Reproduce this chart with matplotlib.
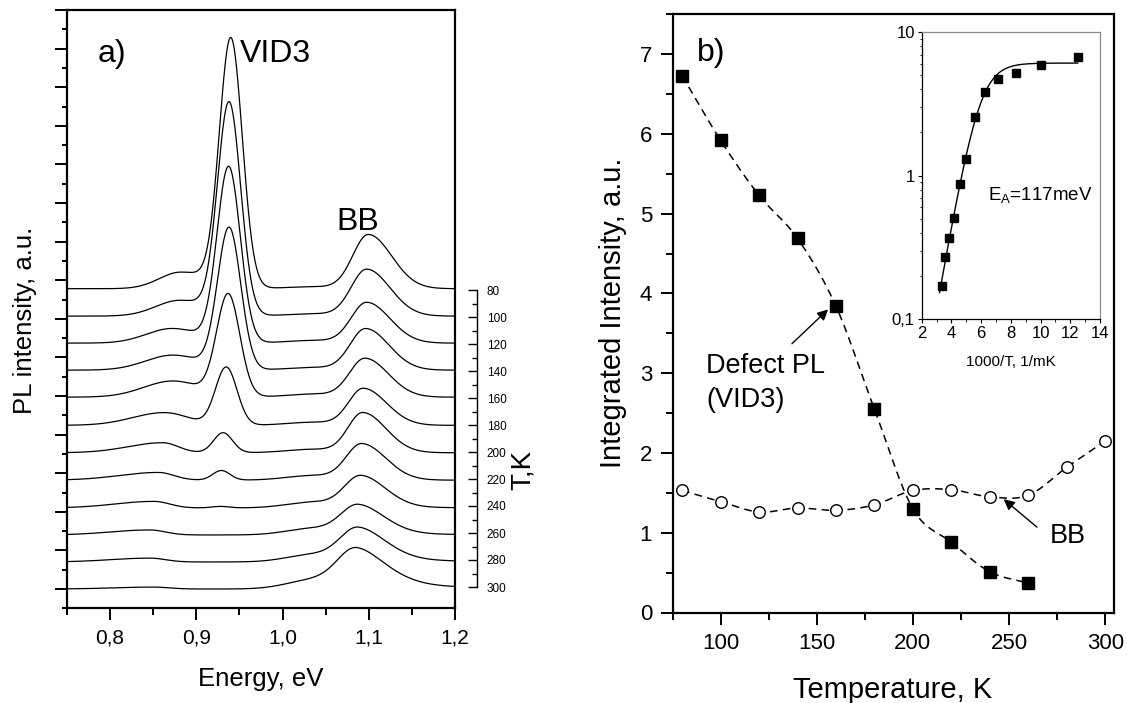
import numpy as np
import matplotlib
matplotlib.use("Agg")
import matplotlib.pyplot as plt
from matplotlib.ticker import MultipleLocator, FuncFormatter, FixedLocator, NullFormatter, LogLocator

plt.rcParams['font.family'] = ['Liberation Sans', 'DejaVu Sans']
plt.rcParams['mathtext.fontset'] = 'custom'
plt.rcParams['mathtext.rm'] = 'Liberation Sans'
plt.rcParams['mathtext.it'] = 'Liberation Sans:italic'

# ---------------- panel a: temperature series of PL spectra ----------------
temps_a = [80, 100, 120, 140, 160, 180, 200, 220, 240, 260, 280, 300]
offsets = [7.78, 7.07, 6.37, 5.67, 4.97, 4.24, 3.53, 2.82, 2.10, 1.40, 0.70, 0.0]

# broad low-energy band
band_pos = [0.882, 0.881, 0.872, 0.873, 0.873, 0.863, 0.861, 0.856, 0.851, 0.846, 0.846, 0.850]
band_amp = [0.43, 0.41, 0.38, 0.39, 0.42, 0.33, 0.26, 0.20, 0.17, 0.13, 0.10, 0.05]
band_wl = [0.025, 0.028, 0.030, 0.032, 0.034, 0.037, 0.040, 0.045, 0.045, 0.045, 0.045, 0.045]
band_wr = [0.035, 0.035, 0.033, 0.033, 0.032, 0.028, 0.018, 0.018, 0.018, 0.018, 0.018, 0.018]

# VID3 line
vid3_pos = [0.940, 0.938, 0.9375, 0.938, 0.937, 0.9347, 0.931, 0.929, 0.928, 0.927, 0.926, 0.925]
vid3_amp = [6.40, 5.45, 4.53, 3.65, 2.63, 1.50, 0.52, 0.25, 0.04, 0.0, 0.0, 0.0]
vid3_w = [0.0133, 0.0134, 0.0135, 0.0135, 0.0135, 0.0125, 0.011, 0.010, 0.010, 0.010, 0.010, 0.010]

# band-to-band (BB) emission
bb_pos = [1.0995, 1.0976, 1.0976, 1.0964, 1.0957, 1.0937, 1.093, 1.092, 1.091, 1.088, 1.088, 1.086]
bb_amp = [1.40, 1.21, 1.05, 1.07, 1.00, 0.95, 1.03, 0.93, 0.82, 0.76, 0.865, 1.02]
bb_wl = [0.018, 0.018, 0.018, 0.018, 0.018, 0.017, 0.017, 0.018, 0.019, 0.020, 0.021, 0.022]
bb_wr = [0.027, 0.027, 0.027, 0.027, 0.027, 0.027, 0.027, 0.028, 0.029, 0.031, 0.033, 0.036]
bb_eta = [0, 0, 0, 0, 0, 0, 0, 0, 0.1, 0.2, 0.3, 0.5]
ped_amp = [0.05, 0.06, 0.07, 0.07, 0.08, 0.08, 0.09, 0.12, 0.15, 0.17, 0.19, 0.23]
ped_pos, ped_w = 1.035, 0.03

energy_ticks = [0.8, 0.9, 1.0, 1.1, 1.2]

# ---------------- panel b: integrated intensities ----------------
temps_vid = [80, 100, 120, 140, 160, 180, 200, 220, 240, 260]
vid_int = [6.73, 5.92, 5.23, 4.69, 3.84, 2.55, 1.30, 0.88, 0.51, 0.37]
temps_bb = [80, 100, 120, 140, 160, 180, 200, 220, 240, 260, 280, 300]
bb_int = [1.53, 1.39, 1.26, 1.31, 1.28, 1.35, 1.53, 1.54, 1.45, 1.47, 1.82, 2.15]

# inset: Arrhenius plot of the VID3 intensity
temps_arr = [80, 100, 120, 140, 160, 180, 200, 220, 240, 260, 280, 300]
arr_int = vid_int + [0.27, 0.17]
E_A = 0.117          # eV
I0_fit = 6.1
C_fit = 3000.0
k_B = 8.617e-5


def asym_gauss(E, c, a, wl, wr):
    w = np.where(E < c, wl, wr)
    return a * np.exp(-0.5 * ((E - c) / w) ** 2)


def bb_line(E, c, a, wl, wr, eta):
    left = np.exp(-0.5 * ((E - c) / wl) ** 2)
    g = np.exp(-0.5 * ((E - c) / wr) ** 2)
    hw = wr * np.sqrt(2 * np.log(2))
    lor = 1.0 / (1.0 + ((E - c) / hw) ** 2)
    return a * np.where(E < c, left, (1 - eta) * g + eta * lor)


def catmull_rom(x, y, n=20):
    pts = np.column_stack([x, y]).astype(float)
    p = np.vstack([2 * pts[0] - pts[1], pts, 2 * pts[-1] - pts[-2]])
    t = np.linspace(0, 1, n, endpoint=False)[:, None]
    segs = []
    for i in range(1, len(p) - 2):
        p0, p1, p2, p3 = p[i - 1], p[i], p[i + 1], p[i + 2]
        seg = 0.5 * (2 * p1 + (-p0 + p2) * t + (2 * p0 - 5 * p1 + 4 * p2 - p3) * t ** 2
                     + (-p0 + 3 * p1 - 3 * p2 + p3) * t ** 3)
        segs.append(seg)
    segs.append(pts[-1:])
    out = np.vstack(segs)
    return out[:, 0], out[:, 1]


W, H = 1127, 703
fig = plt.figure(figsize=(W / 100, H / 100), dpi=100)


def fx(px):
    return px / W


def fy(py):
    return 1 - py / H


# ---- panel a ----
axa = fig.add_axes([fx(67), fy(608.3), (455 - 67) / W, (608.3 - 10) / H])
E = np.linspace(0.75, 1.2, 1200)
for i in range(len(temps_a)):
    spec = (offsets[i]
            + asym_gauss(E, band_pos[i], band_amp[i], band_wl[i], band_wr[i])
            + vid3_amp[i] * np.exp(-0.5 * ((E - vid3_pos[i]) / vid3_w[i]) ** 2)
            + ped_amp[i] * np.exp(-0.5 * ((E - ped_pos) / ped_w) ** 2)
            + bb_line(E, bb_pos[i], bb_amp[i], bb_wl[i], bb_wr[i], bb_eta[i]))
    axa.plot(E, spec, color='black', lw=0.9)

axa.set_xlim(0.75, 1.2)
axa.set_ylim(-0.5, 15)
axa.xaxis.set_major_locator(FixedLocator(energy_ticks))
axa.xaxis.set_minor_locator(MultipleLocator(0.05))
axa.xaxis.set_major_formatter(FuncFormatter(lambda v, p: f"{v:.1f}".replace('.', ',')))
axa.yaxis.set_major_locator(MultipleLocator(1))
axa.yaxis.set_minor_locator(MultipleLocator(0.5))
axa.tick_params(axis='both', which='major', direction='out', length=8.4, width=1.4,
                labelsize=15, pad=6)
axa.tick_params(axis='y', which='minor', direction='out', length=3.6, width=1.4)
axa.tick_params(axis='x', which='minor', direction='out', length=4.8, width=1.4)
axa.tick_params(axis='y', labelleft=False)
for s in axa.spines.values():
    s.set_linewidth(1.6)

axa.text(0.785, 13.65, 'a)', fontsize=23, va='baseline')
axa.text(0.9507, 13.66, 'VID3', fontsize=23, va='baseline')
axa.text(1.0628, 9.31, 'BB', fontsize=23, va='baseline')
fig.text(fx(261), fy(686), 'Energy, eV', fontsize=18.5, ha='center', va='baseline')
fig.text(fx(25), fy(320), 'PL intensity, a.u.', fontsize=18.5, rotation=90,
         ha='center', va='center')

# temperature scale beside the spectra
axt = fig.add_axes([fx(477) - 0.0001, fy(587), 0.0001, (587 - 290) / H])
axt.set_ylim(300, 80)
axt.set_xticks([])
for name in ('left', 'top', 'bottom'):
    axt.spines[name].set_visible(False)
axt.spines['right'].set_linewidth(1.0)
axt.yaxis.set_major_locator(FixedLocator(temps_a))
axt.yaxis.set_minor_locator(MultipleLocator(10))
axt.tick_params(axis='y', which='both', direction='in', left=False, right=True,
                labelleft=False, labelright=True, width=1.0)
axt.tick_params(axis='y', which='major', length=6.5, labelsize=8.5, pad=7)
axt.tick_params(axis='y', which='minor', length=3.5)
fig.text(fx(523), fy(470), 'T,K', fontsize=20, rotation=90, ha='center', va='center')

# ---- panel b ----
axb = fig.add_axes([fx(672.5), fy(612.5), (1113.5 - 672.5) / W, (612.5 - 14.3) / H])
xs, ys = catmull_rom(temps_vid, vid_int)
axb.plot(xs, ys, color='black', lw=1.1, ls=(0, (5, 3.5)))
xs, ys = catmull_rom(temps_bb, bb_int)
axb.plot(xs, ys, color='black', lw=1.1, ls=(0, (5, 3.5)))
axb.plot(temps_vid, vid_int, ls='none', marker='s', ms=8.2, mfc='black', mec='black', zorder=3)
axb.plot(temps_bb, bb_int, ls='none', marker='o', ms=8.3, mfc='white', mec='black',
         mew=1.0, zorder=3)
axb.set_xlim(75, 304.3)
axb.set_ylim(0, 7.5)
axb.xaxis.set_major_locator(MultipleLocator(50))
axb.xaxis.set_minor_locator(MultipleLocator(25))
axb.yaxis.set_major_locator(MultipleLocator(1))
axb.yaxis.set_minor_locator(MultipleLocator(0.5))
axb.tick_params(axis='both', which='major', direction='out', length=8.6, width=1.4,
                labelsize=16, pad=6)
axb.tick_params(axis='both', which='minor', direction='out', length=4.8, width=1.4)
for s in axb.spines.values():
    s.set_linewidth(1.6)

axb.text(87.6, 6.91, 'b)', fontsize=23, va='baseline')
axb.text(92.4, 3.0, 'Defect PL', fontsize=19.5, va='baseline')
axb.text(92.4, 2.58, '(VID3)', fontsize=19.5, va='baseline')
axb.annotate('', xy=(155.9, 3.80), xytext=(137.1, 3.37),
             arrowprops=dict(arrowstyle='-|>', color='black', lw=1.0,
                             mutation_scale=16, shrinkA=0, shrinkB=0))
axb.text(271.3, 0.87, 'BB', fontsize=19.5, va='baseline')
axb.annotate('', xy=(247.2, 1.42), xytext=(264.5, 1.07),
             arrowprops=dict(arrowstyle='-|>', color='black', lw=1.0,
                             mutation_scale=16, shrinkA=0, shrinkB=0))
fig.text(fx(893), fy(698), 'Temperature, K', fontsize=21, ha='center', va='baseline')
fig.text(fx(613), fy(313), 'Integrated Intensity, a.u.', fontsize=21, rotation=90,
         ha='center', va='center')

# ---- inset: Arrhenius plot ----
axi = fig.add_axes([fx(921.7), fy(319), (1100 - 921.7) / W, (319 - 32.3) / H])
inv_T = [1000.0 / t for t in temps_arr]
xf = np.linspace(3.2, 12.5, 300)
yf = I0_fit / (1 + C_fit * np.exp(-E_A * xf / (k_B * 1000.0)))
axi.plot(xf, yf, color='black', lw=1.0)
axi.plot(inv_T, arr_int, ls='none', marker='s', ms=6.3, mfc='black', mec='black')
axi.set_yscale('log')
axi.set_xlim(2, 14)
axi.set_ylim(0.1, 10)
axi.xaxis.set_major_locator(MultipleLocator(2))
axi.xaxis.set_minor_locator(MultipleLocator(1))
axi.yaxis.set_major_locator(FixedLocator([0.1, 1, 10]))
axi.yaxis.set_minor_locator(LogLocator(base=10, subs=np.arange(2, 10)))
axi.yaxis.set_minor_formatter(NullFormatter())
axi.yaxis.set_major_formatter(FuncFormatter(
    lambda v, p: {0.1: '0,1', 1: '1', 10: '10'}.get(round(v, 3), '')))
axi.tick_params(axis='both', which='major', direction='out', length=3, width=0.8,
                labelsize=12, pad=2)
axi.tick_params(axis='both', which='minor', direction='out', length=1.8, width=0.6)
for name in ('left', 'bottom'):
    axi.spines[name].set_linewidth(0.9)
for name in ('top', 'right'):
    axi.spines[name].set_linewidth(0.9)
    axi.spines[name].set_color('#8a8a8a')
axi.text(6.46, 0.677, r'E$_\mathregular{A}$=117meV', fontsize=13.5, va='baseline')
fig.text(fx(1011), fy(366), '1000/T, 1/mK', fontsize=11, ha='center', va='baseline')

fig.savefig('out.png', dpi=100)
